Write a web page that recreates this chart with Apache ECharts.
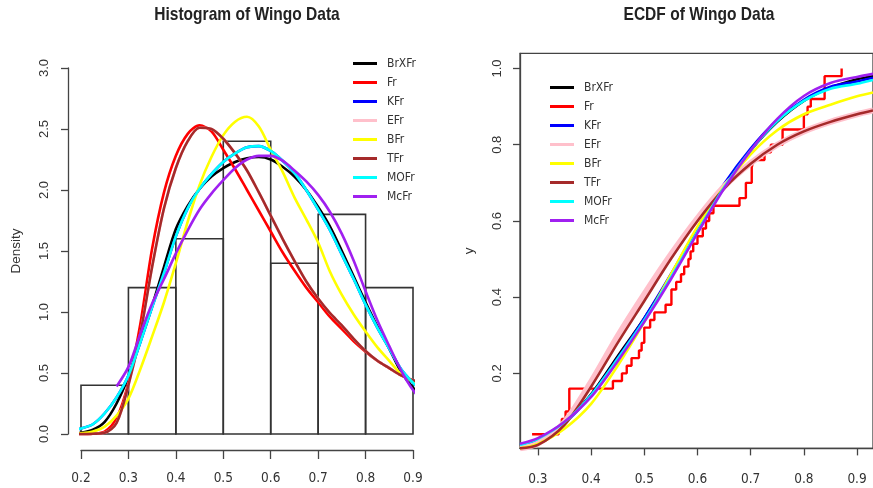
<!DOCTYPE html>
<html><head><meta charset="utf-8">
<script src="https://cdn.jsdelivr.net/npm/echarts@6/dist/echarts.min.js"></script>
<style>html,body{margin:0;padding:0;background:#fff}#c{width:873px;height:488px}</style>
</head><body><div id="c"></div>
<script>
// ---------- data ----------
const seriesNames  = ['BrXFr','Fr','KFr','EFr','BFr','TFr','MOFr','McFr'];
const seriesColors = ['#000000','#FF0000','#0000FF','#FFC0CB','#FFFF00','#A52A2A','#00FFFF','#A020F0'];
const titles = ['Histogram of Wingo Data','ECDF of Wingo Data'];

const histBreaks  = [0.2,0.3,0.4,0.5,0.6,0.7,0.8,0.9];
const histDensity = [0.4,1.2,1.6,2.4,1.4,1.8,1.2];

const densX = [0.173,0.2,0.225,0.25,0.275,0.3,0.325,0.35,0.375,0.4,0.425,0.45,0.475,0.5,0.525,0.55,0.575,0.6,0.625,0.65,0.675,0.7,0.725,0.75,0.775,0.8,0.825,0.85,0.875,0.9,0.927];
const densBrXFr = [0.0,0.01,0.035,0.10,0.25,0.47,0.76,1.05,1.37,1.68,1.87,2.01,2.11,2.18,2.23,2.26,2.27,2.25,2.19,2.11,2.00,1.86,1.70,1.50,1.29,1.08,0.88,0.70,0.51,0.38,0.28];
const densFr    = [0,0,0.003,0.02,0.13,0.42,0.90,1.52,1.98,2.28,2.46,2.53,2.48,2.33,2.17,2.00,1.83,1.66,1.49,1.34,1.20,1.08,0.96,0.86,0.76,0.675,0.60,0.54,0.48,0.44,0.40];
const densKFr   = [0.025,0.045,0.08,0.17,0.30,0.48,0.75,1.04,1.32,1.62,1.85,2.01,2.13,2.23,2.30,2.35,2.36,2.32,2.24,2.14,2.00,1.84,1.67,1.47,1.27,1.06,0.87,0.70,0.53,0.42,0.33];
const densEFr   = [0,0,0.002,0.01,0.09,0.40,0.82,1.37,1.85,2.18,2.40,2.51,2.50,2.42,2.30,2.16,1.98,1.79,1.60,1.42,1.25,1.11,0.99,0.89,0.78,0.68,0.60,0.54,0.48,0.44,0.41];
const densBFr   = [0,0.005,0.02,0.06,0.15,0.29,0.53,0.80,1.08,1.40,1.74,2.04,2.27,2.45,2.56,2.60,2.52,2.33,2.15,1.94,1.76,1.57,1.33,1.14,0.98,0.84,0.71,0.60,0.49,0.43,0.38];
const densTFr   = [0,0,0.002,0.01,0.09,0.40,0.82,1.37,1.85,2.18,2.40,2.51,2.50,2.42,2.30,2.16,1.98,1.79,1.60,1.42,1.25,1.11,0.99,0.89,0.78,0.68,0.60,0.54,0.48,0.44,0.41];
const densMOFr  = [0.025,0.045,0.08,0.17,0.30,0.48,0.75,1.04,1.32,1.62,1.85,2.01,2.13,2.23,2.30,2.35,2.36,2.32,2.24,2.14,2.00,1.84,1.67,1.47,1.27,1.06,0.87,0.70,0.53,0.42,0.33];
const densMcFr  = [null,null,null,null,0.39,0.55,0.82,1.07,1.27,1.48,1.67,1.84,1.97,2.08,2.18,2.25,2.28,2.28,2.24,2.16,2.07,1.96,1.82,1.64,1.42,1.17,0.93,0.72,0.52,0.36,0.235];

const cdfX = [0.2663,0.3,0.35,0.4,0.45,0.5,0.55,0.6,0.65,0.7,0.75,0.8,0.85,0.9,0.93];
const cdfBrXFr = [0.008,0.025,0.07,0.145,0.245,0.345,0.455,0.575,0.69,0.785,0.86,0.915,0.95,0.972,0.98];
const cdfKFr   = [0.012,0.027,0.07,0.143,0.24,0.345,0.46,0.582,0.697,0.79,0.865,0.918,0.952,0.966,0.976];
const cdfEFr   = [0.003,0.016,0.072,0.178,0.298,0.408,0.512,0.607,0.69,0.752,0.80,0.835,0.86,0.88,0.89];
const cdfBFr   = [0.003,0.015,0.055,0.12,0.22,0.335,0.46,0.585,0.69,0.775,0.838,0.88,0.905,0.927,0.937];
const cdfTFr   = [0.003,0.012,0.065,0.165,0.28,0.39,0.50,0.60,0.685,0.75,0.80,0.835,0.86,0.88,0.89];
const cdfMOFr  = [0.012,0.028,0.072,0.143,0.238,0.34,0.452,0.572,0.688,0.785,0.862,0.915,0.947,0.96,0.97];
const cdfMcFr  = [0.015,0.03,0.073,0.138,0.232,0.335,0.447,0.568,0.685,0.785,0.868,0.928,0.962,0.978,0.986];

const ecdfX = [0.289,0.339,0.345,0.352,0.359,0.441,0.458,0.467,0.476,0.490,0.495,0.500,0.511,0.519,0.540,0.551,0.560,0.569,0.575,0.583,0.587,0.592,0.600,0.610,0.616,0.622,0.630,0.679,0.691,0.702,0.705,0.726,0.738,0.760,0.800,0.807,0.813,0.839,0.871];
const ecdfY = [0.04,0.06,0.08,0.10,0.16,0.18,0.20,0.22,0.24,0.26,0.28,0.32,0.34,0.36,0.38,0.42,0.44,0.46,0.48,0.50,0.52,0.54,0.56,0.58,0.60,0.62,0.64,0.66,0.70,0.74,0.76,0.78,0.80,0.84,0.88,0.90,0.92,0.98,1.00];

const histXTicks = [0.2,0.3,0.4,0.5,0.6,0.7,0.8,0.9];
const histYTicks = [0,0.5,1,1.5,2,2.5,3];
const ecdfXTicks = [0.3,0.4,0.5,0.6,0.7,0.8,0.9];
const ecdfYTicks = [0.2,0.4,0.6,0.8,1.0];

// ---------- chart ----------
const NARROW = "'DejaVu Sans Condensed','Liberation Sans Narrow',sans-serif";
const REG = "'Liberation Sans',Arial,sans-serif";
const AX = '#444';
const densSets = [densBrXFr,densFr,densKFr,densEFr,densBFr,densTFr,densMOFr,densMcFr];
const cdfSets  = {BrXFr:cdfBrXFr,KFr:cdfKFr,EFr:cdfEFr,BFr:cdfBFr,TFr:cdfTFr,MOFr:cdfMOFr,McFr:cdfMcFr};

const pairs = (xs, ys) => xs.map((x,i)=>[x,ys[i]]).filter(p=>p[1]!==null);

const series = [];
series.push({
  type:'custom', xAxisIndex:0, yAxisIndex:0, silent:true, z:1,
  data: histDensity.map((d,i)=>[histBreaks[i],histBreaks[i+1],d]),
  encode:{x:[0,1],y:2},
  renderItem:(params,api)=>{
    const p0 = api.coord([api.value(0),0]);
    const p1 = api.coord([api.value(1),api.value(2)]);
    return {type:'rect', shape:{x:p0[0],y:p1[1],width:p1[0]-p0[0],height:p0[1]-p1[1]},
            style:{fill:'none',stroke:'#333',lineWidth:1.6}};
  }
});
seriesNames.forEach((n,i)=>{
  series.push({name:n,type:'line',xAxisIndex:0,yAxisIndex:0,data:pairs(densX,densSets[i]),
    smooth:0.3,symbol:'none',clip:false,color:seriesColors[i],
    lineStyle:{color:seriesColors[i],width:2.6},z:2});
});
series.push({name:'ECDF',type:'line',xAxisIndex:1,yAxisIndex:1,data:pairs(ecdfX,ecdfY),step:'end',
  symbol:'none',color:'#FF0000',lineStyle:{color:'#FF0000',width:2.4},z:2});
seriesNames.forEach((n,i)=>{
  if(!cdfSets[n]) return;
  series.push({name:n,type:'line',xAxisIndex:1,yAxisIndex:1,data:pairs(cdfX,cdfSets[n]),
    smooth:0.3,symbol:'none',color:seriesColors[i],
    lineStyle:{color:seriesColors[i],width:n==='EFr'?6:2.6},z:2});
});

const legendBase = {data:seriesNames,orient:'vertical',icon:'rect',itemWidth:24,itemHeight:3,itemGap:5,
  selectedMode:false,padding:0,
  textStyle:{fontFamily:NARROW,fontSize:12,color:'#333',lineHeight:14,padding:[0,0,0,5]}};

const titleText = (t,cx) => ({type:'text',x:cx,y:15,scaleX:0.84,z:10,
  style:{text:t,textAlign:'center',textVerticalAlign:'middle',fill:'#222',
         font:"bold 18.5px 'Liberation Sans', Arial, sans-serif"}});

const chart = echarts.init(document.getElementById('c'),null,{renderer:'canvas'});
chart.setOption({
  animation:false,
  backgroundColor:'#ffffff',
  graphic:[titleText(titles[0],247),titleText(titles[1],699)],
  legend:[
    Object.assign({},legendBase,{left:353,top:56.5}),
    Object.assign({},legendBase,{left:550,top:80.5})
  ],
  grid:[
    {left:81,right:460,top:68,bottom:54,containLabel:false},
    {left:520,right:-27.3,top:53.3,bottom:39.6,containLabel:false,show:true,borderColor:AX,borderWidth:1.3,backgroundColor:'transparent'}
  ],
  xAxis:[
    {gridIndex:0,type:'value',min:0.2,max:0.9,interval:0.1,offset:16,
     axisLine:{show:true,onZero:false,lineStyle:{color:AX,width:1.3}},
     axisTick:{show:true,length:9,lineStyle:{color:AX,width:1.3},customValues:histXTicks},
     axisLabel:{margin:21,fontSize:13.5,color:'#333',fontFamily:NARROW,customValues:histXTicks,formatter:v=>v.toFixed(1)},
     splitLine:{show:false}},
    {gridIndex:1,type:'value',min:0.2663,max:0.93,
     axisLine:{show:true,onZero:false,lineStyle:{color:AX,width:1.3}},
     axisTick:{show:true,length:7,lineStyle:{color:AX,width:1.3},customValues:ecdfXTicks},
     axisLabel:{margin:24,fontSize:13.5,color:'#333',fontFamily:NARROW,customValues:ecdfXTicks,formatter:v=>v.toFixed(1)},
     splitLine:{show:false}}
  ],
  yAxis:[
    {gridIndex:0,type:'value',min:0,max:3,interval:0.5,offset:13,
     axisLine:{show:true,onZero:false,lineStyle:{color:AX,width:1.3}},
     axisTick:{show:true,length:7,lineStyle:{color:AX,width:1.3},customValues:histYTicks},
     axisLabel:{rotate:90,margin:17,fontSize:13,color:'#333',fontFamily:REG,customValues:histYTicks,formatter:v=>v.toFixed(1)},
     name:'Density',nameLocation:'middle',nameRotate:90,nameGap:45,
     nameTextStyle:{fontSize:13.5,fontFamily:REG,color:'#333'},
     splitLine:{show:false}},
    {gridIndex:1,type:'value',min:0.003,max:1.04,
     axisLine:{show:true,onZero:false,lineStyle:{color:AX,width:1.3}},
     axisTick:{show:true,length:7,lineStyle:{color:AX,width:1.3},customValues:ecdfYTicks},
     axisLabel:{rotate:90,margin:16,fontSize:13,color:'#333',fontFamily:REG,customValues:ecdfYTicks,formatter:v=>v.toFixed(1)},
     name:'y',nameLocation:'middle',nameRotate:90,nameGap:44,
     nameTextStyle:{fontSize:13.5,fontFamily:REG,color:'#333'},
     splitLine:{show:false}}
  ],
  series:series
});
</script></body></html>
